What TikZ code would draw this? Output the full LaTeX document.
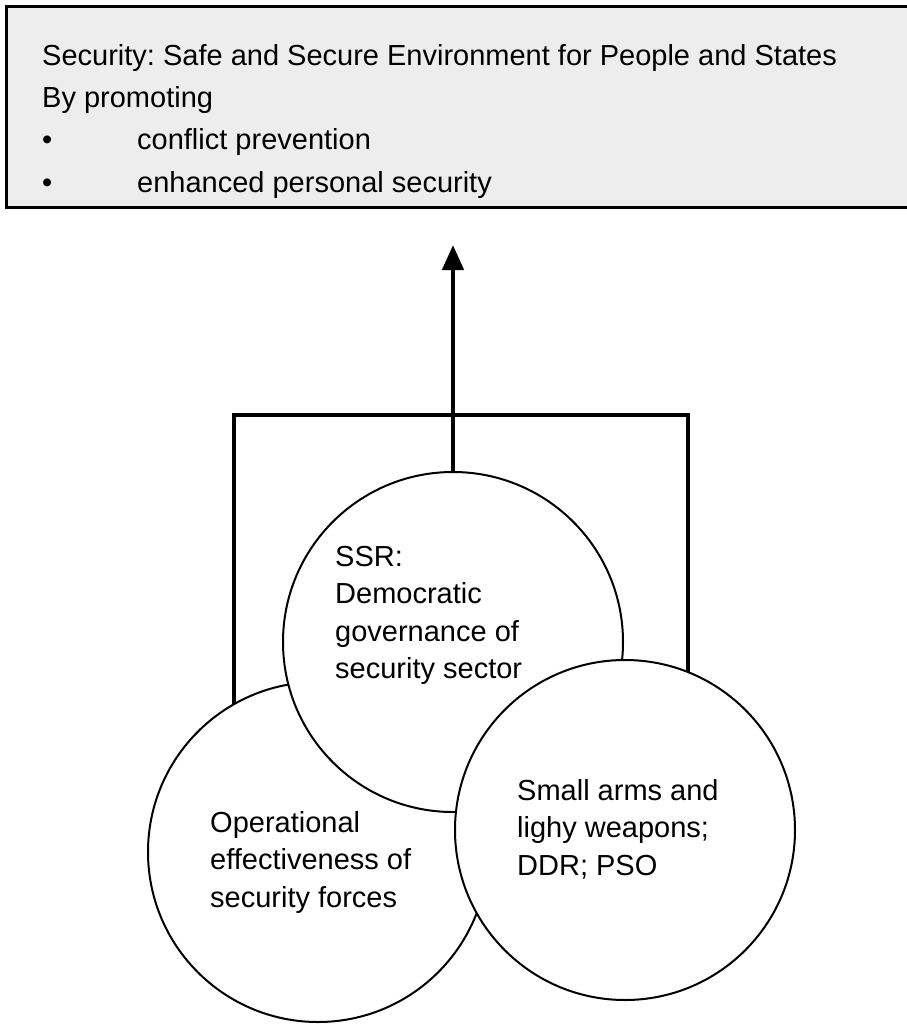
\documentclass[tikz,border=0pt]{standalone}
\usepackage{fontspec}
\setmainfont{Liberation Sans}
\usetikzlibrary{arrows.meta,backgrounds}
\definecolor{boxgray}{HTML}{EDEDED}
\frenchspacing

\begin{document}
\begin{tikzpicture}[x=1pt,y=-1pt,
    circ/.style={circle,draw,fill=white,line width=2pt,minimum size=340pt,inner sep=0pt},
    circtext/.style={anchor=north west,align=left,inner sep=0pt,font=\fontsize{29}{37.5}\selectfont},
    boxtext/.style={anchor=north west,align=left,inner sep=0pt,font=\fontsize{29}{42.3}\selectfont},
    goalbox/.style={draw,fill=\BOXCOLOR,line width=2.5pt,anchor=north west,minimum width=940pt,minimum height=201pt,inner sep=0pt},
    thickline/.style={line width=4.5pt}]

\def\BOXCOLOR{boxgray}
\def\BULLETGAP{95pt}
	\useasboundingbox (0,0) rectangle (906,1026);
	\node[goalbox] (goal) at (5,5) {};
	\node[boxtext] (goaltext) at (42,44) {Security: Safe and Secure Environment for People and States\\
		By promoting\\
		\makebox[\BULLETGAP][l]{\textbullet}conflict prevention\\
		\makebox[\BULLETGAP][l]{\textbullet}enhanced personal security};

	\node[circ] (ops) at (318,852) {};
	\node[circ] (ssr) at (453,642) {};
	\node[circ] (sal) at (625,830) {};

	\node[circtext] (ssrtext) at (335,546) {SSR:\\Democratic\\governance of\\security sector};
	\node[circtext] (opstext) at (210,811) {Operational\\effectiveness of\\security forces};
	\node[circtext] (saltext) at (517,779) {Small arms and\\lighy weapons;\\DDR; PSO};

	\coordinate (tip) at (453,245);
	\coordinate (bl) at (234,415);
	\coordinate (br) at (688,415);
	\begin{scope}[on background layer]
	\draw[thickline] (ops.center -| bl) -- (bl) -- (br) -- (br |- sal.center);
	\end{scope}
	\draw[thickline,-{Triangle[length=25pt,width=21pt]}] (ssr.north) -- (tip);

\end{tikzpicture}
\end{document}
